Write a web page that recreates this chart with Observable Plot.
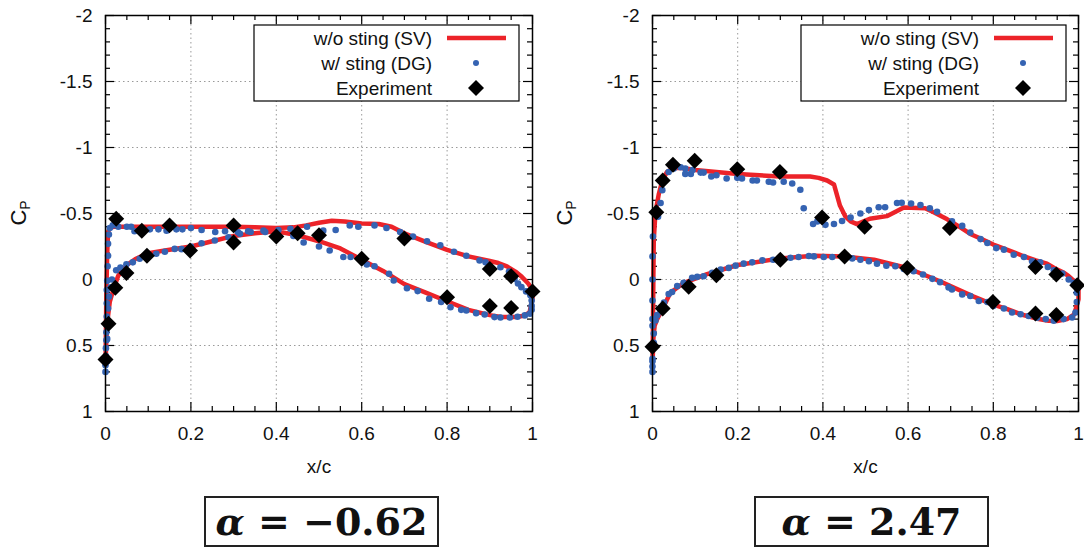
<!DOCTYPE html>
<html><head><meta charset="utf-8">
<script src="https://cdn.jsdelivr.net/npm/d3@7"></script>
<script src="https://cdn.jsdelivr.net/npm/@observablehq/plot@0.6"></script>
<style>
body{margin:0;background:#fff;}
#root{position:relative;width:1084px;height:547px;overflow:hidden;font-family:"Liberation Sans",Arial,sans-serif;background:#fff;}
.panel{position:absolute;top:0;}
.cp{position:absolute;font-size:22px;line-height:1;white-space:nowrap;transform:translate(-50%,-50%) rotate(-90deg);color:#111;}
.cp sub{font-size:14px;vertical-align:-4px;}
.legend{position:absolute;}
.alpha{position:absolute;border:2px solid #222;box-sizing:border-box;display:flex;align-items:center;justify-content:center;font-family:"DejaVu Serif",serif;font-weight:bold;font-size:38px;white-space:pre;color:#111;}
</style></head><body><div id="root"></div>
<script>
// ---- axis ticks ----
const xMajor = [0, 0.2, 0.4, 0.6, 0.8, 1];
const xMinor = [0.05, 0.1, 0.15, 0.25, 0.3, 0.35, 0.45, 0.5, 0.55, 0.65, 0.7, 0.75, 0.85, 0.9, 0.95];
const xGrid = [0.2, 0.4, 0.6, 0.8];
const yMajor = [-2, -1.5, -1, -0.5, 0, 0.5, 1];
const yMinor = [-1.9, -1.8, -1.7, -1.6, -1.4, -1.3, -1.2, -1.1, -0.9, -0.8, -0.7, -0.6, -0.4, -0.3, -0.2, -0.1, 0.1, 0.2, 0.3, 0.4, 0.6, 0.7, 0.8, 0.9];
const yGrid = [-1.5, -1, -0.5, 0, 0.5];

// ---- legend ----
const seriesNames = ["w/o sting (SV)", "w/ sting (DG)", "Experiment"];
const panelTitles = ["α = −0.62", "α = 2.47"];

// ---- alpha = -0.62 ----
const leftSv = [[1.0,0.08],[0.99,0.03],[0.975,-0.02],[0.96,-0.06],[0.94,-0.10],[0.92,-0.125],[0.9,-0.14],[0.85,-0.175],[0.8,-0.225],[0.75,-0.285],[0.7,-0.35],[0.67,-0.40],[0.64,-0.42],[0.6,-0.425],[0.56,-0.44],[0.53,-0.445],[0.5,-0.43],[0.47,-0.41],[0.44,-0.395],[0.4,-0.39],[0.35,-0.395],[0.3,-0.40],[0.2,-0.40],[0.1,-0.40],[0.05,-0.40],[0.02,-0.40],[0.01,-0.39],[0.006,-0.36],[0.004,-0.2],[0.002,0.1],[0.001,0.4],[0.0,0.65],
 [0.002,0.45],[0.005,0.3],[0.01,0.17],[0.02,0.06],[0.03,-0.03],[0.05,-0.11],[0.07,-0.155],[0.1,-0.2],[0.15,-0.225],[0.2,-0.25],[0.25,-0.29],[0.3,-0.33],[0.35,-0.35],[0.4,-0.365],[0.45,-0.335],[0.5,-0.29],[0.55,-0.235],[0.6,-0.15],[0.65,-0.065],[0.7,0.035],[0.75,0.10],[0.8,0.165],[0.85,0.23],[0.9,0.27],[0.93,0.285],[0.96,0.285],[0.98,0.275],[0.993,0.25],[1.0,0.15],[1.0,0.08]];
const leftDg = [[0.0,0.70],[0.0,0.65],[0.001,0.58],[0.001,0.52],[0.002,0.46],[0.002,0.40],[0.002,0.34],[0.003,0.28],[0.003,0.18],[0.003,0.08],[0.004,0.01],[0.005,-0.10],[0.006,-0.18],[0.006,-0.27],[0.008,-0.34],[0.01,-0.39],[0.017,-0.41],[0.03,-0.40],[0.05,-0.40],[0.06,-0.40],[0.068,-0.365],[0.104,-0.38],[0.124,-0.38],[0.143,-0.37],[0.166,-0.38],[0.18,-0.38],[0.2,-0.39],[0.225,-0.375],[0.257,-0.36],[0.28,-0.365],[0.31,-0.36],[0.334,-0.365],[0.374,-0.36],[0.405,-0.375],[0.433,-0.385],[0.472,-0.40],[0.51,-0.37],[0.539,-0.375],[0.572,-0.41],[0.592,-0.40],[0.63,-0.41],[0.658,-0.39],[0.69,-0.36],[0.72,-0.325],[0.753,-0.29],[0.784,-0.26],[0.816,-0.21],[0.845,-0.18],[0.876,-0.144],[0.89,-0.13],[0.925,-0.093],[0.945,-0.06],[0.958,-0.005],[0.966,0.03],[0.974,0.058],[0.985,0.09],[0.995,0.12],[0.998,0.16],[0.998,0.20],
 [0.004,0.62],[0.004,0.45],[0.005,0.33],[0.006,0.22],[0.008,0.13],[0.012,0.06],[0.015,0.0],[0.025,-0.07],[0.035,-0.09],[0.049,-0.115],[0.064,-0.13],[0.08,-0.157],[0.1,-0.18],[0.119,-0.195],[0.139,-0.21],[0.162,-0.232],[0.178,-0.23],[0.2,-0.25],[0.225,-0.275],[0.256,-0.295],[0.288,-0.32],[0.315,-0.346],[0.34,-0.36],[0.37,-0.37],[0.44,-0.33],[0.464,-0.28],[0.5,-0.25],[0.525,-0.22],[0.557,-0.17],[0.574,-0.17],[0.612,-0.114],[0.63,-0.10],[0.664,-0.043],[0.675,0.008],[0.706,0.066],[0.731,0.088],[0.758,0.146],[0.786,0.17],[0.808,0.21],[0.833,0.23],[0.845,0.235],[0.868,0.255],[0.888,0.265],[0.911,0.285],[0.925,0.288],[0.947,0.288],[0.965,0.282],[0.982,0.272],[0.994,0.26],[0.998,0.23]];
const leftExp = [[0.0,0.606],[0.007,0.336],[0.023,0.063],[0.049,-0.05],[0.097,-0.18],[0.198,-0.22],[0.30,-0.28],[0.40,-0.326],[0.60,-0.157],[0.80,0.134],[0.90,0.20],[0.95,0.215],[1.0,0.09],[0.025,-0.46],[0.085,-0.37],[0.15,-0.41],[0.30,-0.41],[0.45,-0.35],[0.50,-0.335],[0.70,-0.31],[0.90,-0.08],[0.95,-0.025]];

// ---- alpha = 2.47 ----
const rightSv = [[1.0,0.04],[0.996,0.03],[0.977,-0.025],[0.966,-0.05],[0.95,-0.075],[0.926,-0.12],[0.9,-0.145],[0.87,-0.178],[0.833,-0.225],[0.8,-0.265],[0.77,-0.31],[0.746,-0.345],[0.72,-0.40],[0.692,-0.456],[0.66,-0.51],[0.64,-0.54],[0.59,-0.545],[0.55,-0.48],[0.51,-0.46],[0.48,-0.42],[0.465,-0.44],[0.453,-0.476],[0.44,-0.56],[0.426,-0.72],[0.41,-0.75],[0.39,-0.77],[0.37,-0.78],[0.3,-0.78],[0.2,-0.80],[0.1,-0.83],[0.07,-0.845],[0.05,-0.845],[0.034,-0.815],[0.023,-0.75],[0.015,-0.65],[0.007,-0.51],[0.003,-0.3],[0.002,0.0],[0.001,0.4],[0.0,0.65],
 [0.002,0.45],[0.005,0.35],[0.011,0.30],[0.023,0.225],[0.042,0.10],[0.074,0.025],[0.128,-0.04],[0.2,-0.11],[0.3,-0.16],[0.38,-0.18],[0.45,-0.175],[0.52,-0.15],[0.6,-0.085],[0.676,0.015],[0.754,0.13],[0.8,0.19],[0.833,0.225],[0.864,0.263],[0.9,0.295],[0.93,0.313],[0.95,0.315],[0.973,0.30],[0.99,0.265],[1.0,0.15],[1.0,0.04]];
const rightDg = [[0.0,0.66],[0.0,0.60],[0.0,0.35],[0.0,0.30],[0.0,0.16],[0.0,0.0],[0.0,-0.175],[0.001,-0.325],[0.013,-0.476],[0.019,-0.58],[0.023,-0.677],[0.03,-0.75],[0.038,-0.814],[0.05,-0.84],[0.066,-0.85],[0.077,-0.84],[0.077,-0.80],[0.09,-0.80],[0.094,-0.83],[0.113,-0.81],[0.12,-0.81],[0.138,-0.78],[0.15,-0.79],[0.174,-0.765],[0.199,-0.77],[0.21,-0.765],[0.235,-0.75],[0.245,-0.75],[0.273,-0.74],[0.283,-0.735],[0.308,-0.74],[0.328,-0.727],[0.347,-0.68],[0.355,-0.54],[0.377,-0.42],[0.387,-0.44],[0.406,-0.414],[0.426,-0.42],[0.445,-0.443],[0.465,-0.47],[0.488,-0.50],[0.508,-0.526],[0.531,-0.547],[0.546,-0.547],[0.574,-0.58],[0.585,-0.582],[0.607,-0.576],[0.629,-0.564],[0.651,-0.54],[0.668,-0.513],[0.703,-0.44],[0.727,-0.406],[0.746,-0.356],[0.77,-0.306],[0.786,-0.276],[0.807,-0.238],[0.825,-0.226],[0.848,-0.188],[0.872,-0.17],[0.891,-0.138],[0.91,-0.13],[0.928,-0.095],[0.942,-0.07],[0.962,-0.045],[0.977,0.0],[0.989,0.025],[0.996,0.10],[0.996,0.17],[0.993,0.25],
 [0.985,0.288],[0.965,0.30],[0.942,0.313],[0.923,0.30],[0.903,0.29],[0.883,0.276],[0.864,0.263],[0.844,0.25],[0.825,0.22],[0.80,0.20],[0.786,0.17],[0.766,0.163],[0.746,0.125],[0.727,0.113],[0.703,0.075],[0.695,0.06],[0.675,0.02],[0.657,-0.005],[0.635,-0.038],[0.613,-0.063],[0.59,-0.08],[0.57,-0.10],[0.549,-0.105],[0.527,-0.12],[0.508,-0.138],[0.488,-0.15],[0.469,-0.16],[0.422,-0.17],[0.402,-0.17],[0.379,-0.175],[0.367,-0.178],[0.343,-0.17],[0.324,-0.165],[0.283,-0.15],[0.258,-0.145],[0.234,-0.13],[0.214,-0.12],[0.195,-0.105],[0.179,-0.088],[0.16,-0.075],[0.14,-0.05],[0.12,-0.025],[0.105,-0.02],[0.093,-0.013],[0.073,0.025],[0.058,0.05],[0.046,0.095],[0.038,0.11],[0.027,0.175],[0.019,0.24],[0.011,0.27],[0.007,0.31],[0.003,0.41],[0.003,0.48],[0.0,0.62],[0.0,0.70]];
const rightExp = [[0.0,0.51],[0.009,-0.51],[0.024,-0.75],[0.048,-0.87],[0.099,-0.90],[0.199,-0.835],[0.299,-0.815],[0.398,-0.47],[0.498,-0.40],[0.698,-0.39],[0.899,-0.095],[0.948,-0.038],[0.997,0.043],[0.024,0.22],[0.085,0.055],[0.15,-0.033],[0.30,-0.15],[0.451,-0.175],[0.598,-0.088],[0.799,0.17],[0.899,0.258],[0.948,0.268]];

const RED = "#ec2329", BLUE = "#3563b2";
const FONT = "Liberation Sans";

function panel(sv, dg, exp, ml, mr) {
  const W = 542, H = 480, mt = 15, mb = 69;
  const fw = W - ml - mr, fh = H - mt - mb;
  const X = d => d[0], Y = d => d[1];
  const t = {stroke: "#000", strokeWidth: 1.2};
  return Plot.plot({
    width: W, height: H, marginLeft: ml, marginRight: mr, marginTop: mt, marginBottom: mb,
    style: {fontFamily: FONT, fontSize: "19px", color: "#111", background: "transparent", overflow: "visible"},
    x: {domain: [0, 1], ticks: xMajor, tickSize: 0, tickPadding: 15, tickFormat: d => String(d), label: "x/c", labelAnchor: "center", labelOffset: 61, labelArrow: "none"},
    y: {domain: [1, -2], ticks: yMajor, tickSize: 0, tickPadding: 13, tickFormat: d => String(d), label: null},
    marks: [
      Plot.ruleX(xGrid, {x: d => d, stroke: "#9a9a9a", strokeWidth: 1, strokeDasharray: "1.5,3"}),
      Plot.ruleY(yGrid, {y: d => d, stroke: "#9a9a9a", strokeWidth: 1, strokeDasharray: "1.5,3"}),
      Plot.ruleX(xMinor, {x: d => d, insetTop: fh - 5, ...t}),
      Plot.ruleX(xMinor, {x: d => d, insetBottom: fh - 5, ...t}),
      Plot.ruleX(xMajor, {x: d => d, insetTop: fh - 9, ...t}),
      Plot.ruleX(xMajor, {x: d => d, insetBottom: fh - 9, ...t}),
      Plot.ruleY(yMinor, {y: d => d, insetRight: fw - 5, ...t}),
      Plot.ruleY(yMinor, {y: d => d, insetLeft: fw - 5, ...t}),
      Plot.ruleY(yMajor, {y: d => d, insetRight: fw - 9, ...t}),
      Plot.ruleY(yMajor, {y: d => d, insetLeft: fw - 9, ...t}),
      Plot.line(sv, {x: X, y: Y, stroke: RED, strokeWidth: 4.5, strokeLinejoin: "round"}),
      Plot.dot(dg, {x: X, y: Y, r: 3.3, fill: BLUE, stroke: "none"}),
      Plot.dot(exp, {x: X, y: Y, r: 7.2, symbol: "diamond2", fill: "#000", stroke: "none"}),
      Plot.frame({stroke: "#000", strokeWidth: 1.5})
    ]
  });
}

function legend(left, top) {
  const w = 265, h = 76;
  const svg = d3.create("svg").attr("width", w + 2).attr("height", h + 2)
    .attr("class", "legend").style("left", (left - 1) + "px").style("top", (top - 1) + "px");
  svg.append("rect").attr("x", 1).attr("y", 1).attr("width", w).attr("height", h).attr("fill", "#fff").attr("stroke", "#000").attr("stroke-width", 1.2);
  const rows = [13, 38, 63];
  seriesNames.forEach((name, i) => {
    svg.append("text").attr("x", 179).attr("y", rows[i] + 1).attr("dy", "0.35em").attr("text-anchor", "end")
      .attr("font-family", FONT).attr("font-size", 19).attr("fill", "#111").text(name);
  });
  svg.append("line").attr("x1", 194).attr("x2", 253).attr("y1", rows[0] + 1).attr("y2", rows[0] + 1).attr("stroke", RED).attr("stroke-width", 4.5);
  svg.append("circle").attr("cx", 223).attr("cy", rows[1] + 1).attr("r", 3).attr("fill", BLUE);
  svg.append("path").attr("d", d3.symbol(d3.symbolDiamond2, 163)()).attr("transform", `translate(223,${rows[2] + 1})`).attr("fill", "#000");
  return svg.node();
}

const root = document.getElementById("root");
const specs = [
  {sv: leftSv, dg: leftDg, exp: leftExp, left: 0, ml: 105, mr: 10, cpx: 20, box: 204},
  {sv: rightSv, dg: rightDg, exp: rightExp, left: 542, ml: 110, mr: 6, cpx: 566, box: 754}
];
specs.forEach((s, i) => {
  const p = panel(s.sv, s.dg, s.exp, s.ml, s.mr);
  p.classList.add("panel");
  p.style.left = s.left + "px";
  root.appendChild(p);
  root.appendChild(legend(s.left + s.ml + 149, 25));
  const cp = document.createElement("div");
  cp.className = "cp";
  cp.innerHTML = "C<sub>P</sub>";
  cp.style.left = s.cpx + "px"; cp.style.top = "213px";
  root.appendChild(cp);
  const a = document.createElement("div");
  a.className = "alpha";
  a.style.left = s.box + "px"; a.style.top = "496px"; a.style.width = "235px"; a.style.height = "51px";
  const txt = panelTitles[i];
  a.innerHTML = "<i>" + txt[0] + "</i>" + txt.slice(1);
  root.appendChild(a);
});
</script></body></html>
